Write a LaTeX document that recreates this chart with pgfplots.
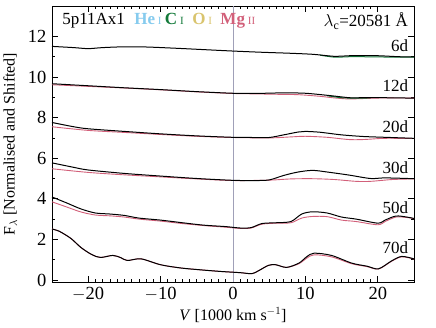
\documentclass[border=0pt]{standalone}
\usepackage{fontspec}
\setmainfont{Liberation Serif}
\usepackage{pgfplots}
\pgfplotsset{compat=1.18}
\definecolor{heblue}{HTML}{86CBEE}
\definecolor{cgreen}{HTML}{137A3A}
\definecolor{oyel}{HTML}{D9C46E}
\definecolor{mgred}{HTML}{D2607A}
\definecolor{zline}{HTML}{A0A0B8}
\newcommand{\fs}{\fontsize{16}{18}\selectfont}
\newcommand{\ft}{\fontsize{17}{19}\selectfont}
\newcommand{\fk}{\fontsize{18.5}{20}\selectfont}
\newcommand{\fsm}{\fontsize{11}{13}\selectfont}
\begin{document}
\fs
\begin{tikzpicture}
\useasboundingbox (-52pt,-45pt) rectangle (384pt,282pt);
\begin{axis}[
  scale only axis, width=362pt, height=276pt,
  xmin=-25, xmax=25, ymin=-0.1, ymax=13.5,
  xtick={-20,-10,0,10,20}, ytick={0,2,4,6,8,10,12},
  minor x tick num=9, minor y tick num=1,
  tick align=inside, major tick length=6pt, minor tick length=3pt,
  xtick pos=both, ytick pos=both,
  every tick/.style={black, line width=0.7pt},
  axis line style={line width=0.8pt},
  every tick label/.append style={font=\fk},
  every axis label/.append style={font=\fs},
  /pgf/number format/assume math mode=true,
  xticklabels={{\fk$-$20},{\fk$-$10},{\fk 0},{\fk 10},{\fk 20}},
  yticklabels={{\fk 0},{\fk 2},{\fk 4},{\fk 6},{\fk 8},{\fk 10},{\fk 12}},
  xlabel={\fs\textit{V} [1000 km s$^{-1}$]},
  ylabel={\fs F$_\lambda$ [Normalised and Shifted]},
  xlabel style={yshift=5pt},
  ylabel style={yshift=0pt},
  clip=true,
]
\draw[zline, line width=0.5pt] (axis cs:0,-0.1) -- (axis cs:0,13.5);

% 6d
\addplot[cgreen, line width=1pt, smooth] coordinates {(12,11.08) (14,10.98) (16,11.0) (18,11.0) (20,10.99) (23,10.98) (25,10.98)};
\addplot[black, line width=1pt, smooth] coordinates {(-25,11.51) (-22,11.45) (-20,11.40) (-18,11.45) (-15,11.49) (-12,11.48) (-8,11.42) (-4,11.35) (0,11.28) (4,11.22) (8,11.17) (11,11.12) (13,11.05) (14,11.02) (15,11.03) (17,11.06) (20,11.05) (23,11.0) (25,10.99)};

% 12d
\addplot[mgred, line width=0.9pt, smooth] coordinates {(-25,9.62) (-20,9.54) (-15,9.46) (-10,9.37) (-5,9.27) (0,9.19) (3,9.17) (6,9.15) (9,9.13) (12,9.05) (14,8.97) (16,8.92) (18,8.94) (21,8.97) (25,8.96)};
\addplot[cgreen, line width=1pt, smooth] coordinates {(13,9.08) (15,8.98) (17,8.96) (19,8.97)};
\addplot[black, line width=1pt, smooth] coordinates {(-25,9.67) (-20,9.57) (-15,9.47) (-10,9.38) (-5,9.28) (0,9.20) (3,9.19) (7,9.22) (10,9.20) (13,9.10) (15,9.02) (16,8.98) (18,8.98) (21,8.98) (25,8.96)};

% 20d
\addplot[mgred, line width=0.9pt, smooth] coordinates {(-25,7.55) (-20,7.37) (-15,7.27) (-10,7.17) (-5,7.08) (0,7.02) (5,7.0) (8,7.05) (10,7.08) (13,7.03) (16,6.92) (18,6.92) (21,6.98) (25,6.97)};
\addplot[black, line width=1pt, smooth] coordinates {(-25,7.76) (-22,7.55) (-20,7.45) (-15,7.32) (-10,7.20) (-5,7.10) (0,7.03) (3,7.02) (5,7.02) (7,7.15) (9,7.29) (10,7.32) (12,7.28) (15,7.15) (18,7.07) (21,7.03) (25,6.98)};

% 30d
\addplot[mgred, line width=0.9pt, smooth] coordinates {(-25,5.48) (-20,5.30) (-15,5.18) (-10,5.08) (-5,4.98) (0,4.90) (5,4.92) (8,4.98) (11,4.99) (14,4.95) (17,4.86) (19,4.86) (22,4.95) (25,4.98)};
\addplot[black, line width=1pt, smooth] coordinates {(-25,5.77) (-22,5.55) (-20,5.42) (-15,5.25) (-10,5.12) (-5,5.0) (0,4.91) (3,4.90) (5,4.93) (7,5.15) (9,5.32) (11,5.40) (13,5.32) (16,5.17) (19,5.0) (21,5.03) (25,4.99)};

% 50d
\addplot[mgred, line width=0.9pt, smooth] coordinates {(-25,3.85) (-23,3.60) (-21,3.35) (-19,3.20) (-17,3.16) (-15,3.10) (-13,3.0) (-10,2.90) (-7,2.78) (-4,2.68) (-1,2.6) (1,2.54) (2.5,2.56) (4,2.75) (6,2.80) (8,2.82) (9.5,3.05) (11,3.13) (13,3.12) (15,2.95) (17,2.88) (20,2.72) (21,2.88) (22.5,3.1) (24,3.08) (25,3.02)};
\addplot[black, line width=1pt, smooth] coordinates {(-25,4.09) (-23,3.80) (-21,3.50) (-19,3.30) (-17,3.25) (-15,3.18) (-13,3.05) (-10,2.95) (-7,2.82) (-4,2.70) (-1,2.63) (1,2.56) (2.5,2.58) (4,2.78) (6,2.82) (8,2.88) (9.5,3.25) (11,3.36) (13,3.30) (15,3.10) (17,3.00) (20,2.80) (21,2.95) (22.5,3.15) (24,3.10) (25,3.03)};

% 70d
\addplot[mgred, line width=0.9pt, smooth] coordinates {(-25,2.51) (-24,2.40) (-22.4,2.05) (-21,1.60) (-19.5,1.25) (-18.3,1.11) (-16.6,1.21) (-15.5,1.10) (-14.6,0.96) (-12.7,1.04) (-10,0.75) (-7.2,0.59) (-4.5,0.50) (-1.7,0.42) (1,0.36) (2.6,0.31) (3.5,0.45) (4.9,0.72) (5.9,0.75) (7.4,0.62) (9.1,0.80) (10.2,1.08) (11.2,1.24) (13.6,1.14) (16.4,0.80) (18.5,0.66) (20.1,0.54) (21.9,0.92) (23.3,1.14) (25,1.03)};
\addplot[black, line width=1pt, smooth] coordinates {(-25,2.51) (-24,2.40) (-22.4,2.05) (-21,1.60) (-19.5,1.25) (-18.3,1.11) (-16.6,1.21) (-15.5,1.10) (-14.6,0.96) (-12.7,1.04) (-10,0.75) (-7.2,0.59) (-4.5,0.50) (-1.7,0.42) (1,0.36) (2.6,0.31) (3.5,0.45) (4.9,0.72) (5.9,0.75) (7.4,0.62) (9.1,0.83) (10.2,1.15) (11.2,1.32) (13.6,1.21) (16.4,0.83) (18.5,0.68) (20.1,0.55) (21.9,0.94) (23.3,1.16) (25,1.04)};

% labels
\node[anchor=east, inner sep=0pt, font=\ft] at (axis cs:24.2,11.55) {6d};
\node[anchor=east, inner sep=0pt, font=\ft] at (axis cs:24.2,9.55) {12d};
\node[anchor=east, inner sep=0pt, font=\ft] at (axis cs:24.2,7.55) {20d};
\node[anchor=east, inner sep=0pt, font=\ft] at (axis cs:24.2,5.55) {30d};
\node[anchor=east, inner sep=0pt, font=\ft] at (axis cs:24.2,3.58) {50d};
\node[anchor=east, inner sep=0pt, font=\ft] at (axis cs:24.2,1.6) {70d};
\node[anchor=west, inner sep=0pt, font=\ft] at (axis cs:-23.6,12.75) {5p11Ax1\hspace{0.55em}{\color{heblue}\textbf{He}\,{\fsm I}}\hspace{0.2em}{\color{cgreen}\textbf{C}\,{\fsm I}}\hspace{0.5em}{\color{oyel}\textbf{O}\,{\fsm I}}\hspace{0.5em}{\color{mgred}\textbf{Mg}\,{\fsm II}}};
\node[anchor=east, inner sep=0pt, font=\ft] at (axis cs:24.2,12.75) {$\lambda_\mathrm{c}$=20581 Å};
\end{axis}
\end{tikzpicture}
\end{document}
